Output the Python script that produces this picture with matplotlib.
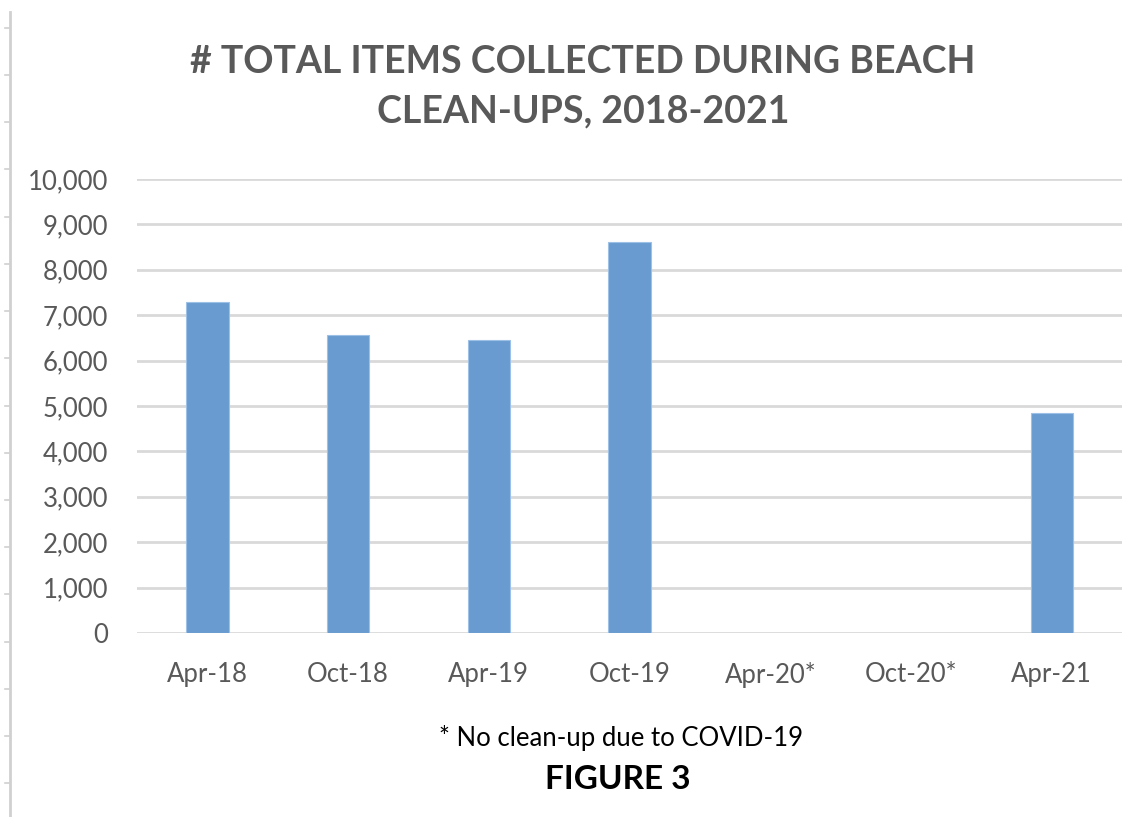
"""
Total items collected during beach clean-ups, 2018-2021 (Figure 3).
Excel-style column chart rebuilt in matplotlib.
"""

import numpy as np
import matplotlib.pyplot as plt
from matplotlib.ticker import FuncFormatter
from matplotlib.lines import Line2D

# ── Data ──────────────────────────────────────────────────────────────
events = ["Apr-18", "Oct-18", "Apr-19", "Oct-19", "Apr-20*", "Oct-20*", "Apr-21"]
items = [7300, 6560, 6450, 8600, 0, 0, 4840]
y_ticks = [0, 1000, 2000, 3000, 4000, 5000, 6000, 7000, 8000, 9000, 10000]

title = "# TOTAL ITEMS COLLECTED DURING BEACH\nCLEAN-UPS, 2018-2021"
note = "* No clean-up due to COVID-19"
fig_label = "FIGURE 3"

# ── Style ─────────────────────────────────────────────────────────────
plt.rcParams["font.family"] = ["Lato", "DejaVu Sans"]
BAR = "#6a9bd0"
GRID = "#d9d9d9"
TXT = "#595959"

fig = plt.figure(figsize=(11.45, 8.17), dpi=100, facecolor="white")
ax = fig.add_axes([0.1197, 0.2252, 0.8603, 0.5558])

x = np.arange(len(events))
bars = [v if v > 0 else np.nan for v in items]
ax.bar(x, bars, width=0.3, color=BAR, edgecolor="#9dc0e6", linewidth=0.8, zorder=3)

ax.set_xlim(-0.5, len(events) - 0.5)
ax.set_ylim(0, 10000)
ax.set_yticks(y_ticks)
ax.yaxis.set_major_formatter(FuncFormatter(lambda v, _: f"{int(v):,}"))
ax.set_xticks(x)
ax.set_xticklabels(events)

ax.grid(axis="y", color=GRID, linewidth=2, zorder=0)
for s in ax.spines.values():
    s.set_visible(False)
ax.tick_params(axis="both", length=0, labelsize=18.5, colors=TXT)
ax.tick_params(axis="y", pad=21)
ax.tick_params(axis="x", pad=21)

# ── Titles / notes ───────────────────────────────────────────────────
fig.text(0.509, 0.894, title, ha="center", va="center", fontsize=27,
         fontweight="bold", color=TXT, linespacing=1.55)
fig.text(0.542, 0.097, note, ha="center", va="center", fontsize=18.5, color="black")
fig.text(0.540, 0.046, fig_label, ha="center", va="center", fontsize=24,
         fontweight="bold", color="black")

# page margin ruler on the left edge
fig.add_artist(Line2D([0.0083, 0.0083], [0.0, 0.985], color="#d0d0d0", linewidth=2))
for yy in np.arange(0.966, 0.0, -0.0578):
    fig.add_artist(Line2D([0.004, 0.0075], [yy, yy], color="#d0d0d0", linewidth=1.2))

plt.savefig("out.png", dpi=100, facecolor="white")
plt.close()
